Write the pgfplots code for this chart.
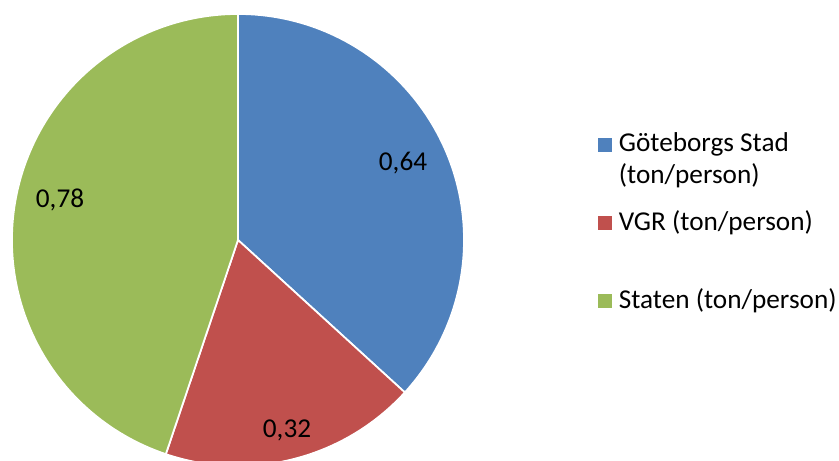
\documentclass[border=0pt]{standalone}
\usepackage{pgfplots}
\pgfplotsset{compat=1.18}
\usepackage{fontspec}
\setmainfont{Carlito}
\definecolor{cBlue}{HTML}{4F81BD}
\definecolor{cRed}{HTML}{C0504D}
\definecolor{cGreen}{HTML}{9BBB59}
\begin{document}
\begin{tikzpicture}
\def\va{0.64}\def\vb{0.32}\def\vc{0.78}
\pgfmathsetmacro\tot{\va+\vb+\vc}
\pgfmathsetmacro\aA{90-360*\va/\tot}
\pgfmathsetmacro\aB{\aA-360*\vb/\tot}
\pgfmathsetmacro\aC{\aB-360*\vc/\tot}
\def\cx{4.76}\def\cy{4.42}\def\R{4.52}
\useasboundingbox (0,0) rectangle (16.78cm,9.22cm);
\begin{axis}[
  x=1cm, y=1cm, xmin=0, xmax=16.78, ymin=0, ymax=9.22,
  hide axis, clip=true,
  font=\fontsize{15.5}{18}\selectfont,
  legend image code/.code={\fill[#1, draw=none] (0cm,0cm) rectangle (0.28cm,0.28cm);},
  legend style={at={(axis cs:11.96,6.64)}, anchor=north west, draw=none, fill=none,
    inner sep=0pt, row sep=0.99cm, column sep=0.06cm,
    font=\fontsize{15.5}{18}\selectfont,
    cells={anchor=base west, inner sep=0pt, text height=0.38cm, text depth=0.1cm}},
]
\addlegendimage{fill=cBlue}
\addlegendentry{\makebox[0pt][l]{\raisebox{-0.63cm}[0pt][0pt]{(ton/person)}}Göteborgs Stad}
\addlegendimage{fill=cRed}
\addlegendentry{VGR (ton/person)}
\addlegendimage{fill=cGreen}
\addlegendentry{Staten (ton/person)}
\fill[cBlue, draw=white, line width=1pt] (axis cs:\cx,\cy) -- ++(90:\R) arc[start angle=90, end angle=\aA, radius=\R] -- cycle;
\fill[cRed, draw=white, line width=1pt] (axis cs:\cx,\cy) -- ++(\aA:\R) arc[start angle=\aA, end angle=\aB, radius=\R] -- cycle;
\fill[cGreen, draw=white, line width=1pt] (axis cs:\cx,\cy) -- ++(\aB:\R) arc[start angle=\aB, end angle=\aC, radius=\R] -- cycle;
\node at (axis cs:8.06,5.96) {0,64};
\node at (axis cs:5.74,0.62) {0,32};
\node at (axis cs:1.20,5.22) {0,78};
\end{axis}
\end{tikzpicture}
\end{document}
